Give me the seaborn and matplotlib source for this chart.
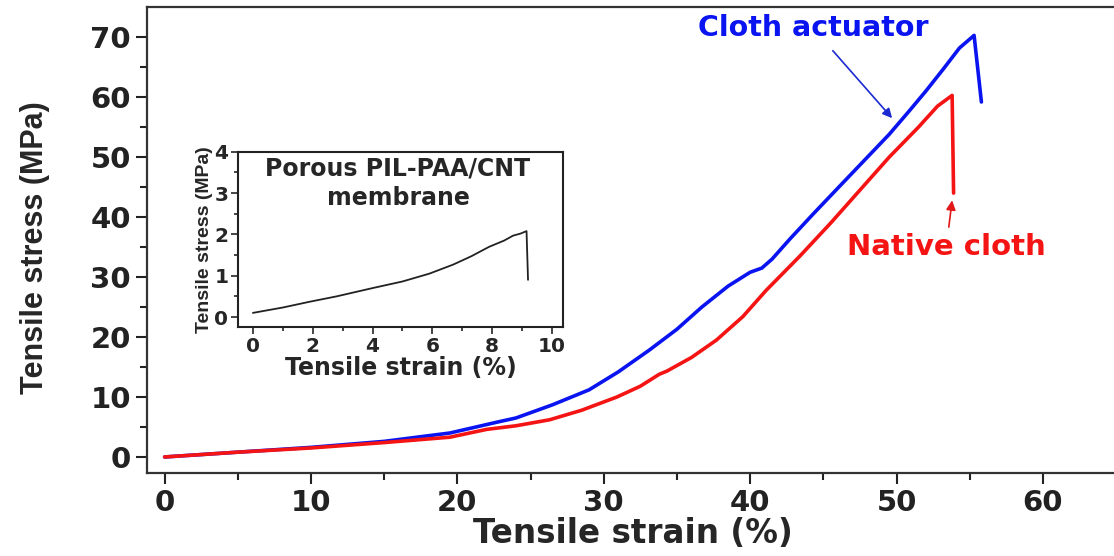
import numpy as np
import matplotlib
matplotlib.use('Agg')
import matplotlib.pyplot as plt
import seaborn as sns
import pandas as pd

#%% data
# cloth actuator (blue)
act_strain = [0, 5, 10, 15, 19.5, 22.7, 24, 26.5, 29, 31, 33.1, 35, 36.7, 38.5, 40, 40.8,
              41.5, 42.7, 44.3, 45.9, 47.7, 49.5, 50.8, 52.0, 53.2, 54.3, 55.3, 55.8]
act_stress = [0, 0.8, 1.6, 2.6, 4.0, 5.8, 6.5, 8.7, 11.2, 14.2, 17.8, 21.3, 25.0, 28.5, 30.8, 31.5,
              33.0, 36.3, 40.5, 44.6, 49.2, 53.8, 57.5, 61.0, 64.7, 68.2, 70.3, 59.2]

# native cloth (red)
nat_strain = [0, 5, 10, 15, 19.5, 22, 24, 26.3, 28.5, 30.9, 32.5, 33.8, 34.3, 36, 37.7, 39.5,
              41.1, 43.4, 45.5, 47.5, 49.5, 51.5, 52.8, 53.8, 53.9]
nat_stress = [0, 0.8, 1.5, 2.4, 3.3, 4.6, 5.2, 6.2, 7.8, 10.0, 11.8, 13.8, 14.3, 16.6, 19.5, 23.4,
              27.8, 33.5, 39.0, 44.5, 50.0, 55.0, 58.5, 60.3, 44.0]

# inset: porous PIL-PAA/CNT membrane
mem_strain = [0, 1, 1.9, 2.8, 4.0, 5.0, 5.9, 6.7, 7.3, 7.9, 8.4, 8.7, 8.95, 9.15, 9.2]
mem_stress = [0.1, 0.23, 0.37, 0.5, 0.7, 0.86, 1.05, 1.27, 1.47, 1.70, 1.85, 1.97, 2.02, 2.08, 0.9]

#%% style
sns.set_style('white')
plt.rcParams['font.family'] = ['DejaVu Sans']
narrow = ['Liberation Sans Narrow', 'Liberation Sans', 'DejaVu Sans']
wide = ['DejaVu Sans']

fig = plt.figure(figsize=(11.14, 5.56), dpi=100)
ax = fig.add_axes([0.132, 0.149, 0.883, 0.838])

sns.lineplot(x=act_strain, y=act_stress, sort=False, estimator=None, color='#0a14f0', lw=2.6, ax=ax)
sns.lineplot(x=nat_strain, y=nat_stress, sort=False, estimator=None, color='#f51414', lw=2.6, ax=ax)

ax.set_xlim(-1.2, 66)
ax.set_ylim(-2.7, 75)
ax.set_xticks(np.arange(0, 61, 10))
ax.set_xticks(np.arange(5, 66, 10), minor=True)
ax.set_yticks(np.arange(0, 71, 10))
ax.set_yticks(np.arange(5, 71, 10), minor=True)
ax.tick_params(which='both', direction='out', left=True, bottom=True, width=1.5, colors='#222222')
ax.tick_params(which='major', length=8)
ax.tick_params(which='minor', length=5)
for lab in ax.get_yticklabels() + ax.get_xticklabels():
    lab.set_fontfamily(wide); lab.set_fontweight('heavy'); lab.set_fontsize(21)
for s in ['left', 'bottom', 'top']:
    ax.spines[s].set_linewidth(1.6)
    ax.spines[s].set_color('#333333')
ax.spines['right'].set_visible(False)

ax.set_xlabel('Tensile strain (%)', fontfamily=wide, fontweight='bold', fontsize=23.5)
ax.set_ylabel('Tensile stress (MPa)', fontfamily=narrow, fontweight='bold', fontsize=22)
ax.xaxis.set_label_coords(0.494, -0.095)
ax.yaxis.set_label_coords(-0.099, 0.485)

ax.annotate('Cloth actuator', xy=(49.7, 56.5), xytext=(44.3, 71.5), ha='center', va='center',
            color='#0a14f0', fontsize=20.5, fontweight='bold',
            arrowprops=dict(arrowstyle='-|>', color='#1a2ad0', lw=1.2, shrinkA=5, shrinkB=0,
                            mutation_scale=14))
ax.annotate('Native cloth', xy=(53.8, 42.8), xytext=(53.4, 35.0), ha='center', va='center',
            color='#f51414', fontsize=21, fontweight='bold',
            arrowprops=dict(arrowstyle='-|>', color='#e01818', lw=1.2, shrinkA=2, shrinkB=0,
                            mutation_scale=14))

#%% inset
ins = fig.add_axes([0.2136, 0.412, 0.2918, 0.315])
sns.lineplot(x=mem_strain, y=mem_stress, sort=False, estimator=None, color='#222222', lw=1.3, ax=ins)
ins.set_xlim(-0.5, 10.37)
ins.set_ylim(-0.24, 4)
ins.set_xticks(np.arange(0, 11, 2))
ins.set_xticks(np.arange(1, 11, 2), minor=True)
ins.set_yticks(np.arange(0, 5, 1))
ins.set_yticks(np.arange(0.5, 4, 1), minor=True)
ins.tick_params(which='both', direction='out', left=True, bottom=True, width=1.2, pad=2)
ins.tick_params(which='major', length=5)
ins.tick_params(which='minor', length=3)
for lab in ins.get_xticklabels() + ins.get_yticklabels():
    lab.set_fontfamily(wide); lab.set_fontweight('bold'); lab.set_fontsize(14.5)
for s in ins.spines.values():
    s.set_linewidth(1.5)
    s.set_color('#222222')
ins.set_xlabel('Tensile strain (%)', fontfamily=wide, fontweight='bold', fontsize=17, labelpad=0)
ins.set_ylabel('Tensile stress (MPa)', fontfamily=narrow, fontweight='bold', fontsize=14, labelpad=1)
ins.text(4.85, 3.6, 'Porous PIL-PAA/CNT', ha='center', va='center', fontsize=17, fontweight='bold')
ins.text(4.85, 2.88, 'membrane', ha='center', va='center', fontsize=17, fontweight='bold')

plt.savefig('out.png', dpi=100)
